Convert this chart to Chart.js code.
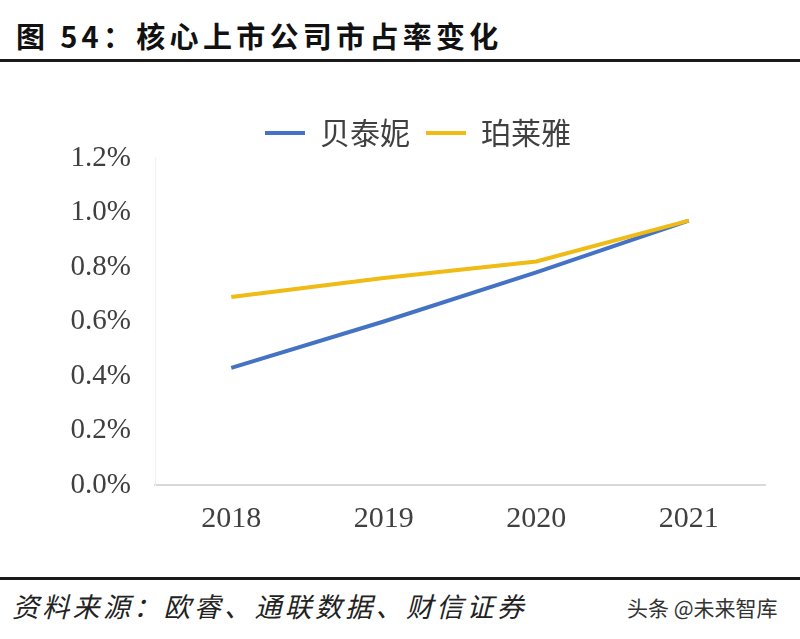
<!DOCTYPE html>
<html>
<head>
<meta charset="utf-8">
<script src="https://cdn.jsdelivr.net/npm/chart.js@4/dist/chart.umd.min.js"></script>
<style>
    html, body { margin: 0; padding: 0; background: #fff; }
    #page { position: relative; width: 800px; height: 639px; overflow: hidden; background: #fff; }
    #title {
        position: absolute; left: 16px; top: 14px;
        font: bold 29px "Noto Sans CJK SC", sans-serif; letter-spacing: 4.3px; color: #111;
        white-space: nowrap;
    }
    .rule { position: absolute; left: 0; width: 800px; height: 3px; background: #1a1a1a; }
    #source {
        position: absolute; left: 12px; top: 586px;
        font: italic 27px "Noto Sans CJK SC", sans-serif; letter-spacing: 3.3px; color: #222;
        white-space: nowrap;
    }
    #mark {
        position: absolute; left: 627px; top: 592px;
        font: 21px "Noto Sans CJK SC", sans-serif; color: #333; white-space: nowrap;
    }
    #chartBox { position: absolute; left: 0; top: 100px; width: 800px; height: 455px; }
</style>
</head>
<body>
<div id="page">
    <div id="title">图 54：核心上市公司市占率变化</div>
    <div class="rule" style="top:59px"></div>
    <div id="chartBox"><canvas id="shareChart"></canvas></div>
    <div class="rule" style="top:577px"></div>
    <div id="source">资料来源：欧睿、通联数据、财信证券</div>
    <div id="mark">头条 @未来智库</div>
</div>
<script>
// market share, %
const years = ['2018', '2019', '2020', '2021'];
const seriesNames = ['贝泰妮', '珀莱雅'];
const botanee = [0.43, 0.60, 0.78, 0.97];
const proya = [0.69, 0.76, 0.82, 0.97];
const yTicks = [0, 0.2, 0.4, 0.6, 0.8, 1.0, 1.2];

const blue = '#4472c4';
const gold = '#f0bb14';

document.addEventListener('DOMContentLoaded', function () {
    var ctx = document.getElementById('shareChart').getContext('2d');
    var chart = new Chart(ctx, {
        type: 'line',
        data: {
            labels: years,
            datasets: [{
                label: seriesNames[0],
                data: botanee,
                borderColor: blue,
                backgroundColor: blue,
                borderWidth: 4,
                pointRadius: 0,
                tension: 0,
                order: 1
            }, {
                label: seriesNames[1],
                data: proya,
                borderColor: gold,
                backgroundColor: gold,
                borderWidth: 4,
                pointRadius: 0,
                tension: 0,
                order: 0
            }]
        },
        options: {
            responsive: true,
            maintainAspectRatio: false,
            animation: false,
            layout: { padding: { left: 71, right: 35, top: 2, bottom: 10 } },
            plugins: {
                tooltip: { enabled: false },
                legend: {
                    position: 'top',
                    labels: {
                        boxWidth: 40,
                        boxHeight: 4,
                        padding: 16,
                        color: '#404040',
                        font: { family: '"Noto Sans CJK SC", sans-serif', size: 30 },
                        sort: (a, b) => a.datasetIndex - b.datasetIndex,
                        generateLabels: function (c) {
                            return Chart.defaults.plugins.legend.labels.generateLabels(c).map(function (l) {
                                l.lineWidth = 0;
                                return l;
                            });
                        }
                    }
                }
            },
            scales: {
                x: {
                    offset: true,
                    grid: { display: false },
                    border: { color: '#d9d9d9', width: 2 },
                    ticks: {
                        padding: 8,
                        color: '#404040',
                        font: { family: '"Liberation Serif", serif', size: 30 }
                    }
                },
                y: {
                    min: 0,
                    max: 1.2,
                    afterFit: function (s) { s.width = 84; },
                    afterBuildTicks: function (s) { s.ticks = yTicks.map(v => ({ value: v })); },
                    grid: { display: false },
                    border: { color: '#f0f0f0', width: 1 },
                    ticks: {
                        padding: 16,
                        color: '#404040',
                        font: { family: '"Liberation Serif", serif', size: 29 },
                        callback: function (v) { return v.toFixed(1) + '%'; }
                    }
                }
            }
        }
    });
});
</script>
</body>
</html>
